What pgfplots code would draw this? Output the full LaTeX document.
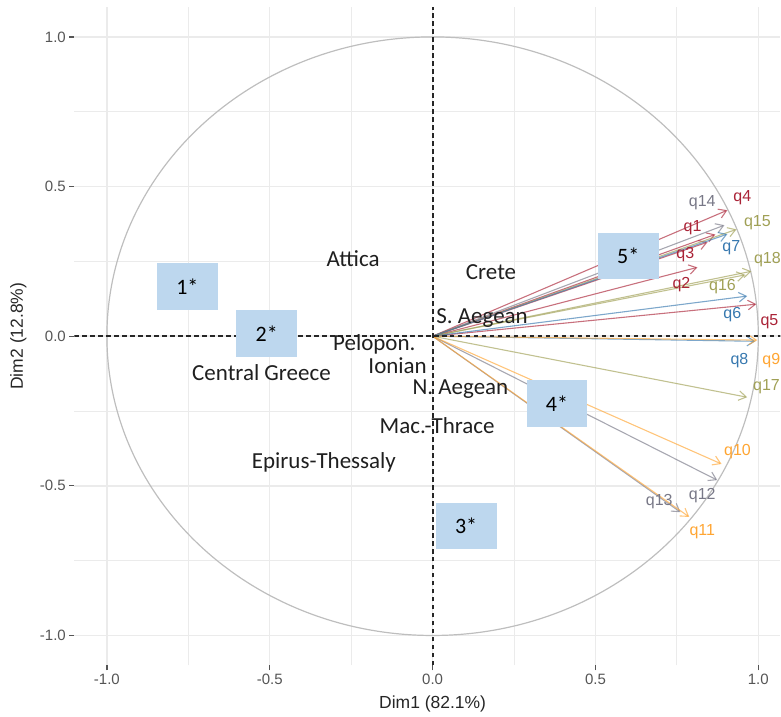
\documentclass[border=0pt]{standalone}
\usepackage{pgfplots}
\pgfplotsset{compat=1.18}
\usepackage{fontspec}
\setmainfont{Liberation Sans}
\newfontfamily\calib{Carlito}
\usetikzlibrary{arrows.meta}
\definecolor{gridc}{RGB}{235,235,235}
\definecolor{circc}{RGB}{190,190,190}
\definecolor{tickc}{RGB}{85,85,85}
\definecolor{qred}{RGB}{170,35,55}
\definecolor{qgray}{RGB}{120,120,135}
\definecolor{qolive}{RGB}{160,160,85}
\definecolor{qblue}{RGB}{55,120,175}
\definecolor{qorange}{RGB}{255,165,50}
\definecolor{boxc}{RGB}{189,215,238}
\tikzset{qarr/.style={line width=1.1pt, opacity=0.65, -{Straight Barb[length=7.5pt,width=9.5pt]}},
 qlab/.style={font=\fontsize{16}{18}\selectfont, inner sep=0pt},
 reg/.style={font=\calib\fontsize{23}{26}\selectfont, text=black!88, anchor=base, inner sep=0pt},
 bx/.style={fill=boxc, minimum width=61pt, minimum height=46.5pt, inner sep=0pt, font=\calib\fontsize{22}{24}\selectfont, text=black}}
\begin{document}
\begin{tikzpicture}
\begin{axis}[
 at={(0pt,0pt)}, anchor=south west,
 scale only axis, width=706.6pt, height=659pt,
 xmin=-1.1, xmax=1.0675, ymin=-1.1, ymax=1.1,
 xtick={-1,-0.5,0,0.5,1}, ytick={-1,-0.5,0,0.5,1},
 minor xtick={-0.75,-0.25,0.25,0.75}, minor ytick={-0.75,-0.25,0.25,0.75},
 grid=both,
 major grid style={draw=gridc, line width=1.4pt},
 minor grid style={draw=gridc, line width=0.9pt},
 axis line style={draw=none},
 xtick pos=bottom, ytick pos=left, tick align=outside,
 major tick length=5pt, minor tick length=0pt,
 major tick style={draw=tickc, line width=1.2pt},
 tick label style={font=\fontsize{15}{17}\selectfont, text=tickc},
 /pgf/number format/fixed, /pgf/number format/fixed zerofill,
 /pgf/number format/precision=1, /pgf/number format/assume math mode=true,
 xlabel={Dim1 (82.1\%)}, ylabel={Dim2 (12.8\%)},
 label style={font=\fontsize{17.5}{20}\selectfont, text=black!85},
 xlabel style={at={(axis description cs:0.5075,-0.0592)}, anchor=center},
 ylabel style={at={(axis description cs:-0.0793,0.5)}, anchor=center},
]
\draw[circc, line width=1.2pt] (axis cs:0,0) ellipse [x radius=1, y radius=1];
% red group
\addplot[qred, qarr] coordinates {(0,0) (0.905,0.421)}; % q4
\addplot[qred, qarr] coordinates {(0,0) (0.868,0.340)}; % q1
\addplot[qred, qarr] coordinates {(0,0) (0.844,0.314)}; % q3
\addplot[qred, qarr] coordinates {(0,0) (0.813,0.230)}; % q2
\addplot[qred, qarr] coordinates {(0,0) (0.994,0.107)}; % q5
% gray group
\addplot[qgray, qarr] coordinates {(0,0) (0.896,0.371)}; % q14
\addplot[qgray, qarr] coordinates {(0,0) (0.874,-0.481)}; % q12
\addplot[qgray, qarr] coordinates {(0,0) (0.761,-0.588)}; % q13
% olive group
\addplot[qolive, qarr] coordinates {(0,0) (0.933,0.357)}; % q15
\addplot[qolive, qarr] coordinates {(0,0) (0.979,0.217)}; % q18
\addplot[qolive, qarr] coordinates {(0,0) (0.960,0.205)}; % q16
\addplot[qolive, qarr] coordinates {(0,0) (0.966,-0.204)}; % q17
% blue group
\addplot[qblue, qarr] coordinates {(0,0) (0.905,0.341)}; % q7
\addplot[qblue, qarr] coordinates {(0,0) (0.966,0.134)}; % q6
\addplot[qblue, qarr] coordinates {(0,0) (0.991,-0.017)}; % q8
% orange group
\addplot[qorange, qarr] coordinates {(0,0) (0.997,-0.013)}; % q9
\addplot[qorange, qarr] coordinates {(0,0) (0.887,-0.427)}; % q10
\addplot[qorange, qarr] coordinates {(0,0) (0.788,-0.604)}; % q11
% dashed reference lines
\draw[black!85, line width=1.8pt, dash pattern=on 4.5pt off 3.5pt] (axis cs:-1.1,0) -- (axis cs:1.1,0);
\draw[black!85, line width=1.8pt, dash pattern=on 4.5pt off 3.5pt] (axis cs:0,-1.1) -- (axis cs:0,1.1);
% variable labels
\node[qlab, text=qred] at (axis cs:0.951,0.464) {q4};
\node[qlab, text=qred] at (axis cs:0.798,0.364) {q1};
\node[qlab, text=qred] at (axis cs:0.776,0.274) {q3};
\node[qlab, text=qred] at (axis cs:0.764,0.174) {q2};
\node[qlab, text=qred] at (axis cs:1.034,0.050) {q5};
\node[qlab, text=qgray] at (axis cs:0.828,0.447) {q14};
\node[qlab, text=qgray] at (axis cs:0.828,-0.534) {q12};
\node[qlab, text=qgray] at (axis cs:0.696,-0.554) {q13};
\node[qlab, text=qolive] at (axis cs:0.997,0.381) {q15};
\node[qlab, text=qolive] at (axis cs:1.028,0.257) {q18};
\node[qlab, text=qolive] at (axis cs:0.890,0.167) {q16};
\node[qlab, text=qolive] at (axis cs:1.025,-0.167) {q17};
\node[qlab, text=qblue] at (axis cs:0.917,0.297) {q7};
\node[qlab, text=qblue] at (axis cs:0.920,0.073) {q6};
\node[qlab, text=qblue] at (axis cs:0.942,-0.083) {q8};
\node[qlab, text=qorange] at (axis cs:1.040,-0.083) {q9};
\node[qlab, text=qorange] at (axis cs:0.936,-0.387) {q10};
\node[qlab, text=qorange] at (axis cs:0.828,-0.654) {q11};
% region labels
\node[reg] at (axis cs:-0.2439,0.2327) {Attica};
\node[reg] at (axis cs:0.1794,0.1880) {Crete};
\node[reg] at (axis cs:0.1518,0.0434) {S. Aegean};
\node[reg] at (axis cs:-0.1789,-0.0491) {Pelopon.};
\node[reg] at (axis cs:-0.5255,-0.1479) {Central Greece};
\node[reg] at (axis cs:-0.1074,-0.1235) {Ionian};
\node[reg] at (axis cs:0.0853,-0.1960) {N. Aegean};
\node[reg] at (axis cs:0.0138,-0.3239) {Mac.-Thrace};
\node[reg] at (axis cs:-0.3337,-0.4407) {Epirus-Thessaly};
% boxes
\node[bx] at (axis cs:-0.7531,0.1660) {1*};
\node[bx] at (axis cs:-0.5092,0.0093) {2*};
\node[bx] at (axis cs:0.1028,-0.6344) {3*};
\node[bx] at (axis cs:0.3819,-0.2254) {4*};
\node[bx] at (axis cs:0.6006,0.2671) {5*};
\end{axis}
\path[use as bounding box] (-74.4pt,-51pt) rectangle (706.6pt,666pt);
\end{tikzpicture}
\end{document}
